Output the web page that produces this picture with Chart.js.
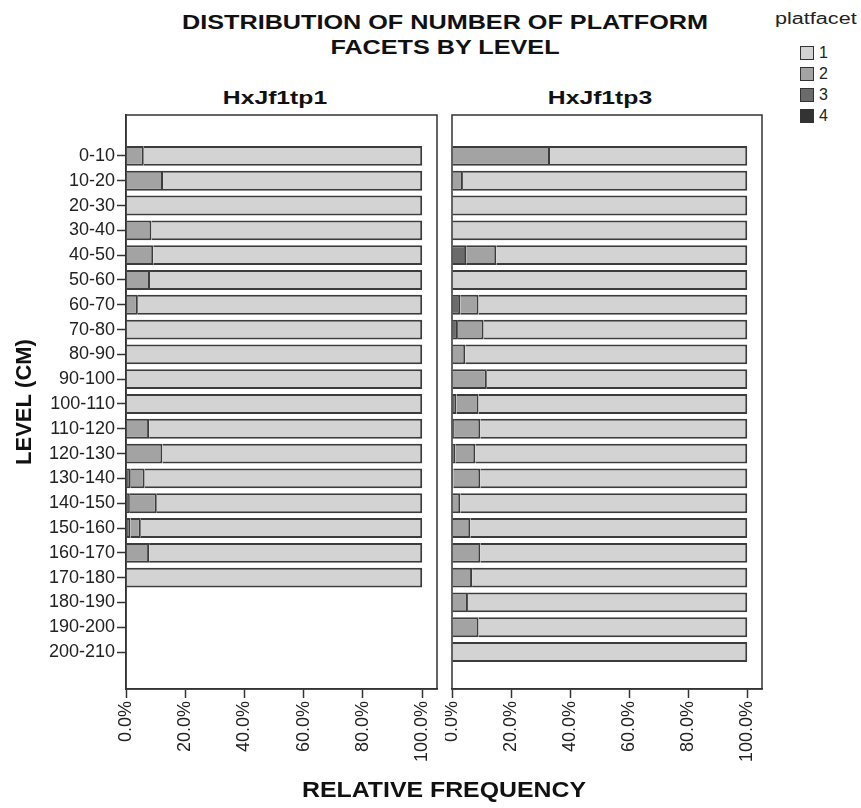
<!DOCTYPE html>
<html>
<head>
<meta charset="utf-8">
<script src="https://cdn.jsdelivr.net/npm/chart.js@4.4.1/dist/chart.umd.min.js"></script>
<style>
    body { margin: 0; background: #fff; font-family: 'Liberation Sans', Arial, sans-serif; }
    #pagina { position: relative; width: 861px; height: 808px; overflow: hidden; }
    .abs { position: absolute; }
    #titulo { left: 145px; top: 9px; width: 600px; text-align: center; font-weight: bold; font-size: 21px; line-height: 25px; color: #111; transform: scaleX(1.2); }
    .panelTitulo { top: 87px; width: 300px; text-align: center; font-weight: bold; font-size: 19px; color: #111; transform: scaleX(1.3); }
    #ejeX { left: 244px; top: 777px; width: 400px; text-align: center; font-weight: bold; font-size: 22px; color: #111; transform: scaleX(1.13); }
    #leyenda { left: 775px; top: 10px; font-size: 16px; color: #222; }
    #leyenda .cabecera { transform: scaleX(1.35); transform-origin: left; margin-bottom: 14px; }
    #leyenda .item { display: flex; align-items: center; height: 21px; margin-left: 25px; }
    #leyenda .caja { width: 12px; height: 12px; border: 1px solid #333; margin-right: 5px; }
</style>
</head>
<body>
<div id="pagina">
    <div id="titulo" class="abs">DISTRIBUTION OF NUMBER OF PLATFORM<br>FACETS BY LEVEL</div>
    <div class="abs panelTitulo" style="left:125px">HxJf1tp1</div>
    <div class="abs panelTitulo" style="left:450px">HxJf1tp3</div>
    <canvas id="chartTp1" class="abs" style="left:0;top:100px" width="445" height="680"></canvas>
    <canvas id="chartTp3" class="abs" style="left:445px;top:100px" width="325" height="680"></canvas>
    <div id="ejeX" class="abs">RELATIVE FREQUENCY</div>
    <div id="leyenda" class="abs"><div class="cabecera">platfacet</div></div>
</div>

<script>
// DATOS
const levels = ['0-10', '10-20', '20-30', '30-40', '40-50', '50-60', '60-70', '70-80', '80-90', '90-100',
    '100-110', '110-120', '120-130', '130-140', '140-150', '150-160', '160-170', '170-180', '180-190',
    '190-200', '200-210'];
const facetCategories = ['1', '2', '3', '4'];
const xTicks = [0, 20, 40, 60, 80, 100];

// HxJf1tp1 (porcentaje por nivel)
const tp1Facet1 = [94, 87.5, 100, 91.4, 90.8, 91.9, 96, 100, 100, 100, 100, 92.2, 87.7, 93.7, 89.6, 95, 92.2, 100, null, null, null];
const tp1Facet2 = [6, 12.5, 0, 8.6, 9.2, 8.1, 4, 0, 0, 0, 0, 7.8, 12.3, 4.7, 9.1, 3.5, 7.8, 0, null, null, null];
const tp1Facet3 = [0, 0, 0, 0, 0, 0, 0, 0, 0, 0, 0, 0, 0, 1.6, 1.3, 1.5, 0, 0, null, null, null];
const tp1Facet4 = [0, 0, 0, 0, 0, 0, 0, 0, 0, 0, 0, 0, 0, 0, 0, 0, 0, 0, null, null, null];

// HxJf1tp3
const tp3Facet1 = [66.8, 96.3, 100, 100, 85, 100, 91, 89.3, 95.5, 88.2, 91, 90.4, 92.1, 90.4, 97.2, 93.8, 90.4, 93.2, 94.6, 91, 100];
const tp3Facet2 = [33.2, 3.7, 0, 0, 10.2, 0, 6.2, 8.7, 4.5, 11.8, 7.5, 8.9, 6.8, 9.1, 2.8, 6.2, 9.6, 6.8, 5.4, 9, 0];
const tp3Facet3 = [0, 0, 0, 0, 4.8, 0, 2.8, 2, 0, 0, 1.5, 0, 1.1, 0, 0, 0, 0, 0, 0, 0, 0];
const tp3Facet4 = [0, 0, 0, 0, 0, 0, 0, 0, 0, 0, 0, 0.7, 0, 0.5, 0, 0, 0, 0, 0, 0, 0];

// COLORES
const coloresFacet = ['#d3d3d3', '#a3a3a3', '#6b6b6b', '#333333'];
const colorBorde = '#333333';
const fuente = "'Liberation Sans', Arial, sans-serif";

// Leyenda
const leyenda = document.getElementById('leyenda');
facetCategories.forEach((cat, i) => {
    const item = document.createElement('div');
    item.className = 'item';
    item.innerHTML = '<span class="caja" style="background:' + coloresFacet[i] + '"></span>' + cat;
    leyenda.appendChild(item);
});

// Marco alrededor del área del gráfico
const marcoPanel = {
    id: 'marcoPanel',
    afterDatasetsDraw(chart) {
        const { ctx, chartArea: a } = chart;
        ctx.save();
        ctx.strokeStyle = colorBorde;
        ctx.lineWidth = 1.5;
        ctx.strokeRect(a.left, a.top, a.right - a.left, a.bottom - a.top);
        ctx.restore();
    }
};

function crearDataset(valores, idx) {
    return {
        label: facetCategories[idx],
        data: valores.map((v, i) => ({ x: v, y: i })),
        backgroundColor: coloresFacet[idx],
        borderColor: '#3c3c3c',
        borderWidth: 2,
        borderSkipped: 'start',
        categoryPercentage: 1,
        barPercentage: 0.8
    };
}

function crearPanel(id, series, conEtiquetas) {
    const ctx = document.getElementById(id).getContext('2d');
    // orden de apilado: 4, 3, 2, 1 (las facetas oscuras a la izquierda)
    const datasets = [3, 2, 1, 0].map(i => crearDataset(series[i], i));

    return new Chart(ctx, {
        type: 'bar',
        data: { datasets: datasets },
        options: {
            indexAxis: 'y',
            responsive: false,
            animation: false,
            layout: {
                padding: { top: 15, right: 8, bottom: 19, left: 0 }
            },
            plugins: {
                legend: { display: false },
                tooltip: { enabled: false }
            },
            scales: {
                x: {
                    type: 'linear',
                    stacked: true,
                    min: 0,
                    max: 105,
                    afterBuildTicks: scale => { scale.ticks = xTicks.map(v => ({ value: v })); },
                    afterFit: scale => {
                        scale.height = 72;
                        scale.paddingLeft = 0;
                        scale.paddingRight = 0;
                    },
                    ticks: {
                        minRotation: 90,
                        maxRotation: 90,
                        color: '#222',
                        padding: 3,
                        font: { family: fuente, size: 18 },
                        callback: value => value.toFixed(1) + '%'
                    },
                    grid: { drawOnChartArea: false, tickLength: 9, tickColor: colorBorde, tickWidth: 1.5 },
                    border: { display: true, color: colorBorde, width: 1.5 }
                },
                y: {
                    type: 'linear',
                    stacked: true,
                    offset: false,
                    display: conEtiquetas,
                    reverse: true,
                    min: -1.65,
                    max: 21.49,
                    afterBuildTicks: scale => { scale.ticks = levels.map((_, i) => ({ value: i })); },
                    afterFit: scale => {
                        scale.width = conEtiquetas ? 126 : 7;
                        scale.paddingTop = 0;
                        scale.paddingBottom = 0;
                    },
                    ticks: {
                        autoSkip: false,
                        color: '#222',
                        padding: 2,
                        font: { family: fuente, size: 18 },
                        callback: value => levels[value]
                    },
                    grid: { offset: false, drawOnChartArea: false, tickLength: 9, tickColor: colorBorde, tickWidth: 1.5 },
                    border: { display: true, color: colorBorde, width: 1.5 },
                    title: {
                        display: true,
                        text: 'LEVEL (CM)',
                        color: '#111',
                        font: { family: fuente, size: 22, weight: 'bold' },
                        padding: { top: 12, bottom: 0 }
                    }
                }
            }
        },
        plugins: [marcoPanel]
    });
}

crearPanel('chartTp1', [tp1Facet1, tp1Facet2, tp1Facet3, tp1Facet4], true);
crearPanel('chartTp3', [tp3Facet1, tp3Facet2, tp3Facet3, tp3Facet4], false);
</script>
</body>
</html>
